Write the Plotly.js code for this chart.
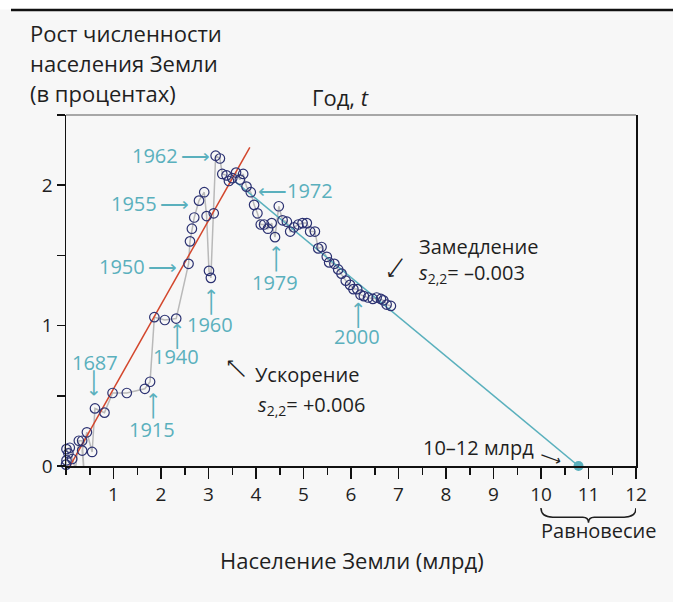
<!DOCTYPE html>
<html>
<head>
<meta charset="utf-8">
<script src="https://cdn.plot.ly/plotly-3.0.1.min.js"></script>
<style>html,body{margin:0;padding:0;background:#f7f7f7;}</style>
</head>
<body>
<div id="chart" style="width:673px;height:602px;"></div>
<script>
// Population of the Earth (billions) and growth rate (%) in chronological order
const population = [0.00,0.01,0.05,0.01,0.08,0.13,0.20,0.27,0.34,0.38,0.38,0.34,0.44,0.55,0.61,0.81,0.98,1.28,1.66,1.77,1.86,2.08,2.32,2.58,2.61,2.65,2.70,2.80,2.91,2.96,3.01,3.05,3.11,3.15,3.24,3.29,3.38,3.43,3.50,3.58,3.66,3.73,3.80,3.89,3.96,4.03,4.10,4.17,4.25,4.33,4.40,4.48,4.56,4.65,4.72,4.80,4.89,4.98,5.07,5.14,5.24,5.31,5.38,5.49,5.54,5.65,5.73,5.80,5.89,5.98,6.05,6.13,6.20,6.27,6.36,6.46,6.54,6.63,6.68,6.75,6.84];
const growth     = [0.01,0.04,0.09,0.12,0.13,0.05,-0.02,0.18,0.18,-0.01,-0.045,0.11,0.24,0.10,0.41,0.38,0.52,0.52,0.55,0.60,1.06,1.04,1.05,1.44,1.60,1.69,1.77,1.89,1.95,1.78,1.39,1.34,1.80,2.21,2.19,2.08,2.07,2.03,2.05,2.09,2.04,2.08,1.99,1.95,1.86,1.80,1.72,1.72,1.69,1.73,1.63,1.85,1.75,1.74,1.67,1.70,1.72,1.73,1.73,1.67,1.67,1.55,1.56,1.49,1.45,1.44,1.40,1.37,1.32,1.29,1.26,1.26,1.22,1.21,1.20,1.19,1.20,1.19,1.18,1.15,1.14];

// Acceleration fit line (s = +0.006) and deceleration line (s = -0.003)
const accelX = [0.00, 3.87];
const accelY = [-0.05, 2.27];
const decelX = [3.55, 10.79];
const decelY = [2.03, 0.00];
const equilibriumX = [10.79];
const equilibriumY = [0.00];

// Axis ticks
const xTickVals = [1,2,3,4,5,6,7,8,9,10,11,12];
const xTickText = ['1','2','3','4','5','6','7','8','9','10','11','12'];
const yTickVals = [0,0.5,1,1.5,2,2.5];
const yTickText = ['0','','1','','2',''];

const TEAL = '#5ab0bd';
const INK = '#1f1f1f';
const FONT = 'Open Sans, Noto Sans, sans-serif';
const ARROWFONT = 'DejaVu Sans';
const ANN = 20;
const TITLE = 22;

const traces = [
  {x: population, y: growth, type: 'scatter', mode: 'lines',
   line: {color: '#b9b9b9', width: 1.5}, hoverinfo: 'skip', cliponaxis: false},
  {x: accelX, y: accelY, type: 'scatter', mode: 'lines',
   line: {color: '#d3462c', width: 1.5}, cliponaxis: false},
  {x: decelX, y: decelY, type: 'scatter', mode: 'lines',
   line: {color: TEAL, width: 1.5}, cliponaxis: false},
  {x: population, y: growth, type: 'scatter', mode: 'markers',
   marker: {symbol: 'circle-open', size: 9.5, color: '#2c3272', line: {width: 1.2}}, cliponaxis: false},
  {x: equilibriumX, y: equilibriumY, type: 'scatter', mode: 'markers',
   marker: {symbol: 'circle', size: 10, color: TEAL}, cliponaxis: false}
];

function txt(text, x, y, opts) {
  return Object.assign({text: text, x: x, y: y, xref: 'x', yref: 'y', showarrow: false,
    yanchor: 'middle', font: {family: FONT, size: ANN, color: TEAL}}, opts || {});
}
function arrow(x, y, angle, color, size) {
  return {text: '⟶', x: x, y: y, xref: 'x', yref: 'y', showarrow: false, textangle: angle,
    xanchor: 'center', yanchor: 'middle',
    font: {family: ARROWFONT, size: size || 19, color: color || TEAL}};
}
function ptxt(text, x, y, size, opts) {
  return Object.assign({text: text, x: x, y: y, xref: 'paper', yref: 'paper', showarrow: false,
    xanchor: 'center', yanchor: 'middle', font: {family: FONT, size: size, color: INK}}, opts || {});
}

const annotations = [
  txt('1962\u2009⟶', 3.07, 2.21, {xanchor: 'right'}),
  txt('1955\u2009⟶', 2.63, 1.87, {xanchor: 'right'}),
  txt('1950\u2009⟶', 2.38, 1.42, {xanchor: 'right'}),
  txt('⟵1972', 4.00, 1.96, {xanchor: 'left'}),
  arrow(4.40, 1.47, -90), txt('1979', 4.40, 1.31),
  arrow(3.03, 1.17, -90), txt('1960', 3.03, 1.01),
  arrow(2.32, 0.92, -90), txt('1940', 2.32, 0.78),
  txt('1687', 0.61, 0.74), arrow(0.61, 0.59, 90),
  arrow(1.81, 0.43, -90), txt('1915', 1.81, 0.26),
  arrow(0.44, -0.185, -90), txt('1350', 0.40, -0.36),
  arrow(6.13, 1.07, -90), txt('2000', 6.13, 0.92),

  txt('Замедление', 7.39, 1.566, {xanchor: 'left', font: {family: FONT, size: ANN, color: INK}}),
  txt('<i>s</i><sub>2,2</sub>= –0.003', 7.39, 1.374, {xanchor: 'left', font: {family: FONT, size: ANN, color: INK}}),
  arrow(6.95, 1.41, 126, INK, 17),
  txt('Ускорение', 3.94, 0.655, {xanchor: 'left', font: {family: FONT, size: ANN, color: INK}}),
  txt('<i>s</i><sub>2,2</sub>= +0.006', 4.00, 0.434, {xanchor: 'left', font: {family: FONT, size: ANN, color: INK}}),
  arrow(3.58, 0.69, -136, INK, 17),
  txt('10–12 млрд', 9.89, 0.135, {xanchor: 'right', font: {family: FONT, size: ANN, color: INK}}),
  arrow(10.21, 0.057, 20, INK, 15),

  txt('Равновесие', 11.22, (466-530)/351, {yref: 'paper', font: {family: FONT, size: ANN, color: INK}}),

  ptxt('Население Земли (млрд)', (352-66)/570, (466-560)/351, TITLE),
  ptxt('Год, <i>t</i>', (340-66)/570, (466-97)/351, TITLE),
  ptxt('Рост численности', (28-66)/570, (466-33)/351, TITLE, {xanchor: 'left'}),
  ptxt('населения Земли', (28-66)/570, (466-63)/351, TITLE, {xanchor: 'left'}),
  ptxt('(в процентах)', (28-66)/570, (466-93)/351, TITLE, {xanchor: 'left'})
];

const y0b = -0.12, y1b = -0.146, y2b = -0.162;
const shapes = [
  {type: 'rect', xref: 'paper', yref: 'paper', x0: -0.2, x1: 1.2, y0: (466-9.5)/351, y1: 1.4,
   fillcolor: '#ffffff', line: {width: 0}},
  {type: 'line', xref: 'paper', yref: 'paper', x0: -0.0965, x1: 1.07, y0: (466-10)/351, y1: (466-10)/351,
   line: {color: '#111111', width: 2.5}},
  {type: 'line', xref: 'paper', yref: 'paper', x0: 0, x1: 1, y0: 1, y1: 1,
   line: {color: '#8c8c8c', width: 1.6}},
  {type: 'path', xref: 'x', yref: 'paper',
   path: `M 10,${y0b} Q 10,${y1b} 10.25,${y1b} L 10.88,${y1b} Q 11,${y1b} 11,${y2b} Q 11,${y1b} 11.12,${y1b} L 11.75,${y1b} Q 12,${y1b} 12,${y0b}`,
   line: {color: INK, width: 1.5}}
];

const layout = {
  width: 673, height: 602,
  margin: {l: 66, r: 37, t: 115, b: 136, pad: 0},
  paper_bgcolor: '#f7f7f7', plot_bgcolor: '#f7f7f7',
  showlegend: false,
  font: {family: FONT, size: 19, color: INK},
  xaxis: {range: [0, 12], showgrid: false, zeroline: false, showline: true,
    linecolor: '#111111', linewidth: 1.5, ticks: 'outside', ticklen: 11, tickwidth: 1.5,
    tickcolor: '#111111', tickvals: xTickVals, ticktext: xTickText,
    tickfont: {family: FONT, size: 19, color: INK},
    minor: {tickmode: 'linear', tick0: 0, dtick: 0.5, ticks: 'outside', ticklen: 7, tickwidth: 1.5, tickcolor: '#111111', showgrid: false}},
  yaxis: {range: [0, 2.5], showgrid: false, zeroline: false, showline: true, mirror: true,
    linecolor: '#111111', linewidth: 1.5, ticks: 'outside', ticklen: 8, tickwidth: 1.5,
    tickcolor: '#111111', tickvals: yTickVals, ticktext: yTickText,
    tickfont: {family: FONT, size: 19, color: INK}},
  annotations: annotations,
  shapes: shapes
};

Plotly.newPlot('chart', traces, layout, {displayModeBar: false, staticPlot: true});
</script>
</body>
</html>
